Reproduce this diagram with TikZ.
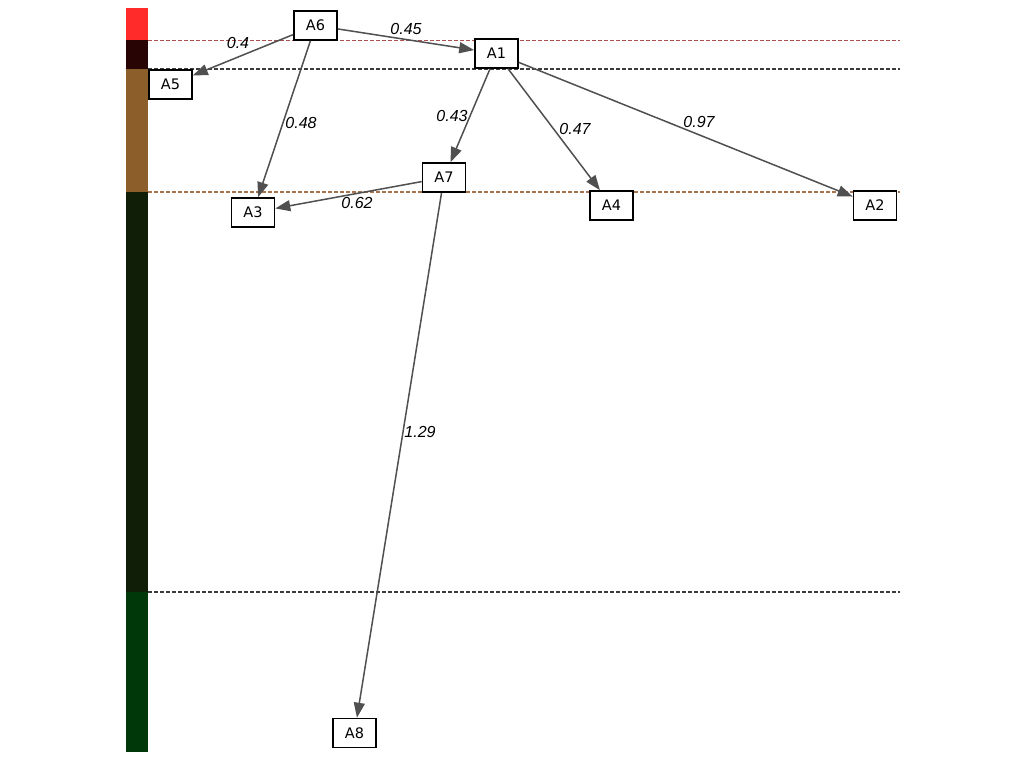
\documentclass[tikz,border=0pt]{standalone}
\usepackage{fontspec}
\setmainfont{DejaVu Sans}
\newfontfamily\labfont{Liberation Sans}
\usetikzlibrary{arrows.meta}
\definecolor{cRed}{RGB}{255,42,42}
\definecolor{cDarkBrown}{RGB}{40,4,4}
\definecolor{cBrown}{RGB}{139,94,42}
\definecolor{cDarkGreen}{RGB}{16,30,8}
\definecolor{cGreen}{RGB}{0,56,10}
\definecolor{edgegray}{RGB}{80,80,80}
\definecolor{lineRed}{RGB}{175,80,80}
\definecolor{lineBrown}{RGB}{170,115,80}
\definecolor{lineDark}{RGB}{60,60,60}
\tikzset{
  box/.style={draw=black, line width=1.6pt, fill=white, minimum width=43pt, minimum height=29pt, inner sep=0pt, font=\fontsize{14.5}{16}\selectfont},
  edge/.style={draw=edgegray, line width=1.5pt, -{Triangle[length=15pt,width=11pt]}},
  elabel/.style={font=\labfont\itshape\fontsize{16}{18}\selectfont, inner sep=0pt},
  level/.style={dashed, dash pattern=on 4pt off 2pt, line width=1.1pt}
}
\begin{document}
\begin{tikzpicture}[x=1pt,y=-1pt]
\useasboundingbox[fill=white] (0,0) rectangle (1024,768);
% colour bar
\fill[cRed] (126,8) rectangle (148,40);
\fill[cDarkBrown] (126,40) rectangle (148,69);
\fill[cBrown] (126,69) rectangle (148,192);
\fill[cDarkGreen] (126,192) rectangle (148,592);
\fill[cGreen] (126,592) rectangle (148,752);
% level lines
\draw[level, lineRed] (148,40.5) -- (900,40.5);
\draw[level, lineDark] (148,69) -- (900,69);
\draw[level, lineBrown] (148,192) -- (900,192);
\draw[level, lineDark] (148,592) -- (900,592);
% nodes
\node[box] (A6) at (315.5,25.5) {A6};
\node[box] (A1) at (496.5,53.5) {A1};
\node[box] (A5) at (170.5,84.5) {A5};
\node[box] (A7) at (444,177.5) {A7};
\node[box] (A3) at (253,212.5) {A3};
\node[box] (A4) at (611.5,205.5) {A4};
\node[box] (A2) at (875,205.5) {A2};
\node[box] (A8) at (354.5,733) {A8};
% edges
\draw[edge] (A6) -- (A5);
\draw[edge] (A6) -- (A1);
\draw[edge] (A6) -- (A3);
\draw[edge] (A1) -- (A7);
\draw[edge] (A1) -- (A4);
\draw[edge] (A1) -- (A2);
\draw[edge] (A7) -- (A3);
\draw[edge] (A7) -- (A8);
% edge labels
\node[elabel] (l65) at (238,43) {0.4};
\node[elabel] (l61) at (406,29) {0.45};
\node[elabel] (l63) at (301,123) {0.48};
\node[elabel] (l17) at (452,116) {0.43};
\node[elabel] (l14) at (575,129) {0.47};
\node[elabel] (l12) at (699,122) {0.97};
\node[elabel] (l73) at (357,203) {0.62};
\node[elabel] (l78) at (420,432) {1.29};
\end{tikzpicture}
\end{document}
